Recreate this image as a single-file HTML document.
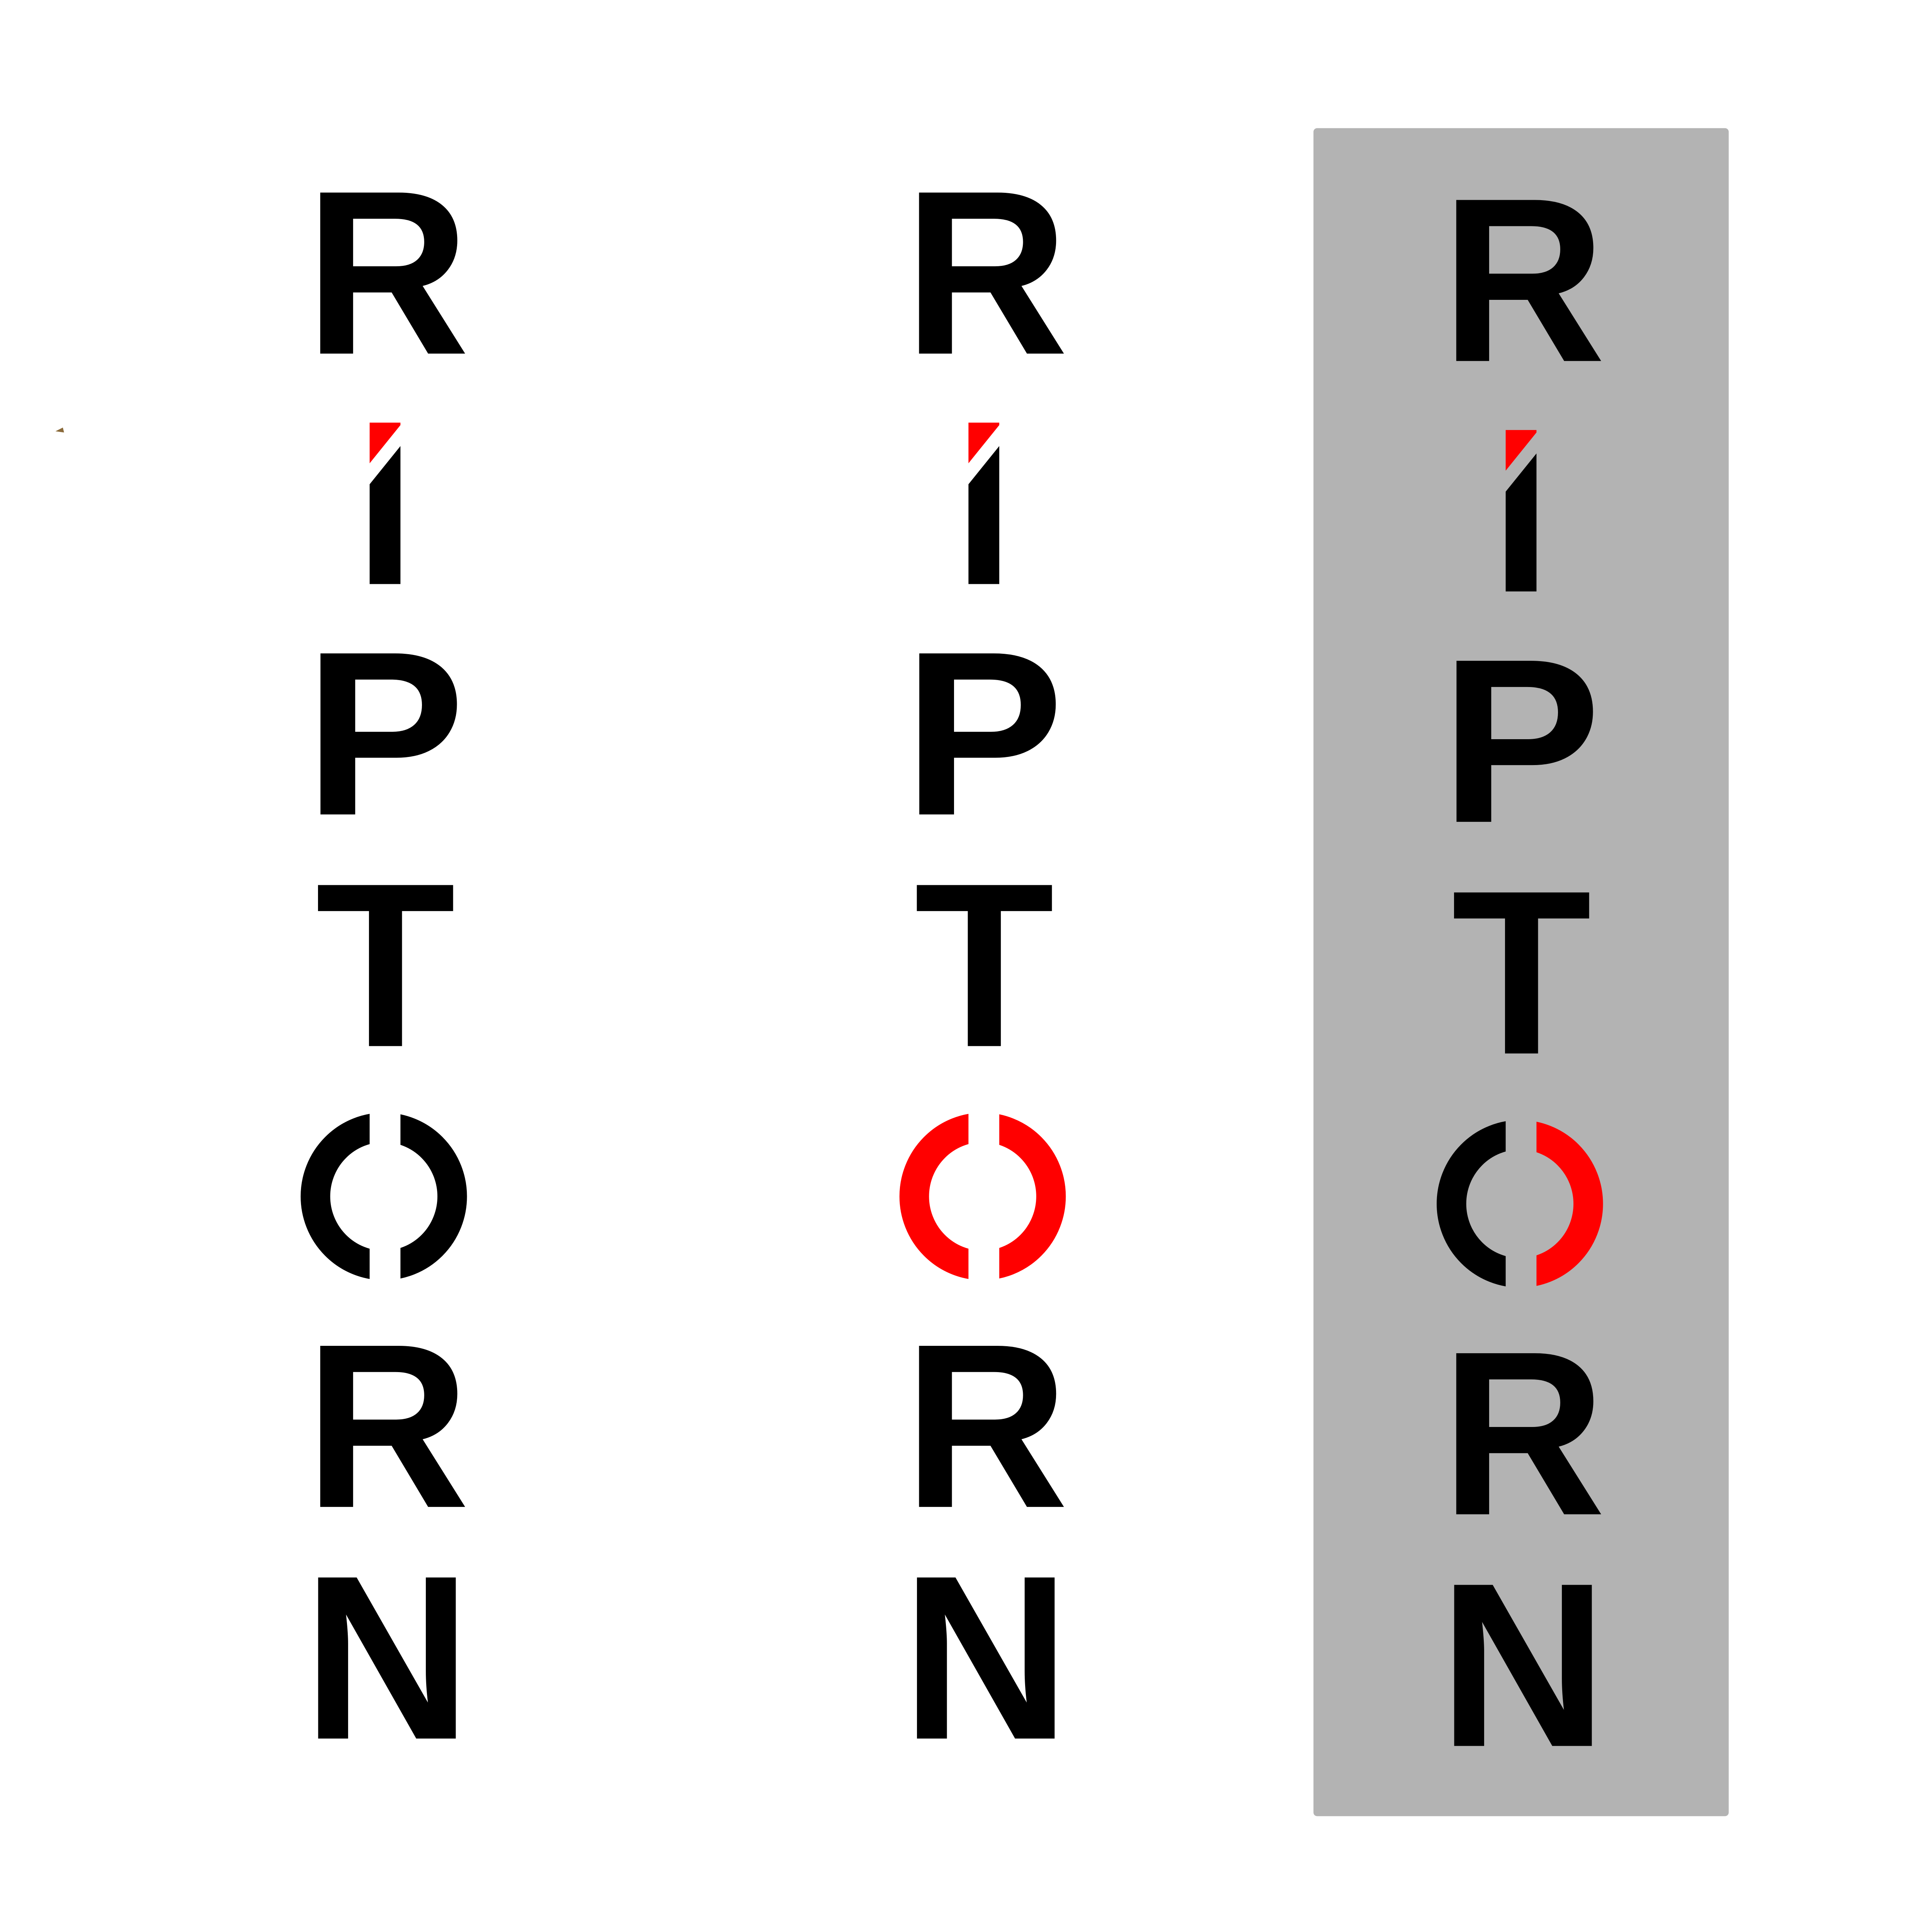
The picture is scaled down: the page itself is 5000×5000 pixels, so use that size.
<!DOCTYPE html>
<html><head><meta charset="utf-8"><style>
html,body{margin:0;padding:0;background:#fff;}
svg{display:block;}
text{font-family:"Liberation Sans",sans-serif;font-weight:bold;font-size:190px;fill:#000;}
</style></head><body>
<svg width="5000" height="5000" viewBox="0 0 1568 1568" xmlns="http://www.w3.org/2000/svg">
<defs>
<clipPath id="cl" clipPathUnits="userSpaceOnUse"><rect x="200" y="880" width="100" height="180"/></clipPath>
<clipPath id="cr" clipPathUnits="userSpaceOnUse"><rect x="325" y="880" width="100" height="180"/></clipPath>
<g id="letters">
<text transform="translate(247.5,287) scale(0.975,1)">R</text>
<polygon points="300,343 325,343 325,345 300,376" fill="#f00"/>
<polygon points="300,393 325,362 325,474 300,474" fill="#000"/>
<text transform="translate(247,661) scale(1.03,1)">P</text>
<text transform="translate(256,849) scale(0.98,1)">T</text>
<text transform="translate(247.5,1223) scale(0.975,1)">R</text>
<text transform="translate(245.5,1411)">N</text>
</g>
</defs>
<rect x="0" y="0" width="1568" height="1568" fill="#fff"/>
<rect x="1066" y="104" width="337" height="1370" rx="3" fill="#b3b3b3"/>
<path d="M45,350 L51,347 L52,351 Z" fill="#8a6a3a"/>

<g>
<use href="#letters"/>
<ellipse cx="311.5" cy="971" rx="55.5" ry="56" fill="none" stroke="#000" stroke-width="24" clip-path="url(#cl)"/>
<ellipse cx="311.5" cy="971" rx="55.5" ry="56" fill="none" stroke="#000" stroke-width="24" clip-path="url(#cr)"/>
</g>

<g transform="translate(486,0)">
<use href="#letters"/>
<ellipse cx="311.5" cy="971" rx="55.5" ry="56" fill="none" stroke="#f00" stroke-width="24" clip-path="url(#cl)"/>
<ellipse cx="311.5" cy="971" rx="55.5" ry="56" fill="none" stroke="#f00" stroke-width="24" clip-path="url(#cr)"/>
</g>

<g transform="translate(922,6)">
<use href="#letters"/>
<ellipse cx="311.5" cy="971" rx="55.5" ry="56" fill="none" stroke="#000" stroke-width="24" clip-path="url(#cl)"/>
<ellipse cx="311.5" cy="971" rx="55.5" ry="56" fill="none" stroke="#f00" stroke-width="24" clip-path="url(#cr)"/>
</g>
</svg>
</body></html>
